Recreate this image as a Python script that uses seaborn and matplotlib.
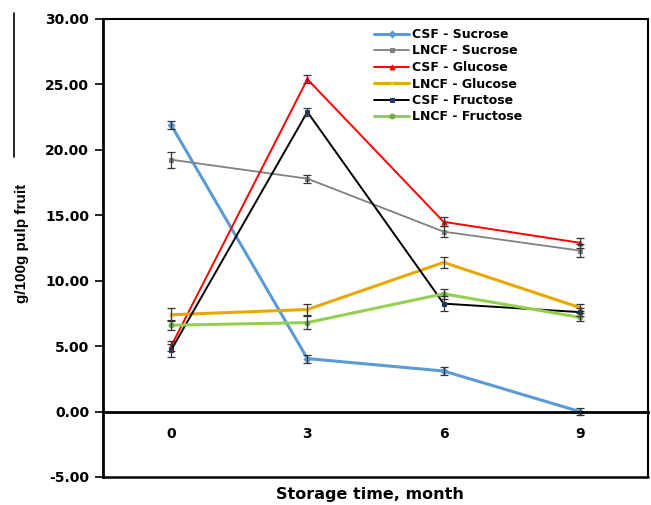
import matplotlib
matplotlib.use("Agg")
import matplotlib.pyplot as plt
from matplotlib.lines import Line2D
import seaborn as sns
import pandas as pd

months = ["0", "3", "6", "9"]
series_names = ["CSF - Sucrose", "LNCF - Sucrose", "CSF - Glucose",
                "LNCF - Glucose", "CSF - Fructose", "LNCF - Fructose"]
csf_sucrose = [21.9, 4.05, 3.1, 0.0]
lncf_sucrose = [19.25, 17.8, 13.75, 12.3]
csf_glucose = [5.0, 25.4, 14.5, 12.9]
lncf_glucose = [7.4, 7.8, 11.4, 7.95]
csf_fructose = [4.7, 22.9, 8.25, 7.6]
lncf_fructose = [6.6, 6.8, 9.0, 7.2]
csf_sucrose_err = [0.3, 0.3, 0.3, 0.3]
lncf_sucrose_err = [0.6, 0.3, 0.4, 0.5]
csf_glucose_err = [0.4, 0.3, 0.35, 0.4]
lncf_glucose_err = [0.5, 0.4, 0.4, 0.3]
csf_fructose_err = [0.5, 0.3, 0.6, 0.3]
lncf_fructose_err = [0.4, 0.5, 0.4, 0.3]
y_ticks = [-5, 0, 5, 10, 15, 20, 25, 30]

values = [csf_sucrose, lncf_sucrose, csf_glucose, lncf_glucose, csf_fructose, lncf_fructose]
errors = [csf_sucrose_err, lncf_sucrose_err, csf_glucose_err, lncf_glucose_err,
          csf_fructose_err, lncf_fructose_err]
colors = ["#5B9BD5", "#808080", "#FF0000", "#E8A800", "#000000", "#92D050"]
mcolors = ["#5B9BD5", "#808080", "#FF0000", "#F0C040", "#1F3864", "#70AD47"]
widths = [2.2, 1.3, 1.4, 2.2, 1.4, 2.2]
markers = ["D", "s", "^", "x", "s", "o"]

sns.set_theme(style="white")
plt.rcParams["font.family"] = ["DejaVu Sans"]
plt.rcParams["text.color"] = "black"
plt.rcParams["xtick.color"] = "black"
plt.rcParams["ytick.color"] = "black"

fig = plt.figure(figsize=(6.51, 5.05), dpi=100)
ax = fig.add_axes([103 / 651, 1 - 477 / 505, 545 / 651, 458 / 505])

xs = list(range(len(months)))
for name, vals, errs, c, mc, lw, m in zip(series_names, values, errors, colors, mcolors, widths, markers):
    df = pd.DataFrame({"x": xs, "y": vals})
    sns.lineplot(data=df, x="x", y="y", ax=ax, color=c, linewidth=lw, marker=m,
                 markersize=3.5, markeredgecolor=mc, markerfacecolor=mc, label=name)
    ax.errorbar(xs, vals, yerr=errs, fmt="none", ecolor="#333333", elinewidth=0.9,
                capsize=3, capthick=0.9, zorder=5)

for s in ["top", "right"]:
    ax.spines[s].set_visible(True)
    ax.spines[s].set_color("black")
    ax.spines[s].set_linewidth(1.5)
ax.spines["left"].set_color("black")
ax.spines["left"].set_linewidth(2)
ax.spines["bottom"].set_position(("data", 0))
ax.spines["bottom"].set_color("black")
ax.spines["bottom"].set_linewidth(2)
ax.plot([0, 1], [0, 0], transform=ax.transAxes, color="black", lw=1.8, clip_on=False)

ax.set_xlim(-0.5, 3.5)
ax.set_ylim(-5, 30)
ax.set_yticks(y_ticks)
ax.set_yticklabels([f"{v:.2f}" for v in y_ticks], fontsize=10, fontweight="bold", color="black")
ax.set_xticks(xs)
ax.set_xticklabels(months, fontsize=10, fontweight="bold", color="black")

ax.tick_params(axis="y", which="major", direction="out", length=6, width=1.2,
               color="black", left=True, pad=4)
ax.tick_params(axis="x", which="major", length=0, pad=11)

ax.set_xlabel("")
ax.set_ylabel("")
fig.text(370 / 651, 1 - 494 / 505, "Storage time, month", ha="center", va="center",
         fontsize=11.5, fontweight="bold", color="black")
fig.text(22 / 651, 1 - 243 / 505, "g/100g pulp fruit", ha="center", va="center",
         rotation=90, fontsize=11, fontweight="bold", color="black",
         family=["Liberation Sans Narrow", "Liberation Sans"])
fig.add_artist(Line2D([14 / 651, 14 / 651], [1 - 13 / 505, 1 - 157 / 505],
                      color="black", lw=1.2))

leg = ax.legend(loc="upper left", bbox_to_anchor=(374 / 651, 1 - 28 / 505),
                bbox_transform=fig.transFigure, frameon=False, fontsize=9,
                handlelength=2.8, handletextpad=0.2, labelspacing=0.28,
                borderpad=0, borderaxespad=0)
for t in leg.get_texts():
    t.set_fontweight("bold")
    t.set_color("black")

fig.savefig("out.png", dpi=100)
